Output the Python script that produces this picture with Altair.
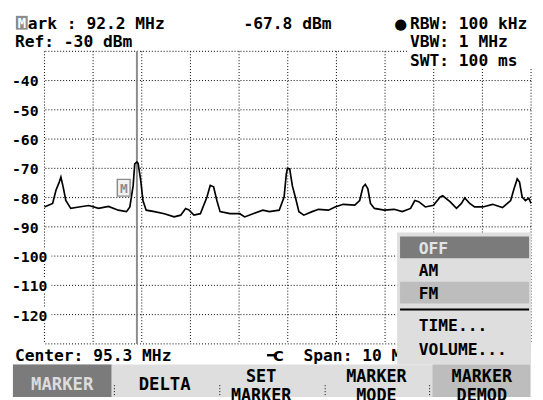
import altair as alt
import pandas as pd

# ---------------- data ----------------
center_mhz = 95.3
span_mhz = 10.0
ref_dbm = -30
db_per_div = 10
n_div = 10

trace_freq_mhz = [
    90.300, 90.468, 90.537, 90.604, 90.638, 90.685, 90.739, 90.840, 91.008, 91.211,
    91.413, 91.616, 91.818, 91.986, 92.055, 92.122, 92.156, 92.200, 92.225, 92.278,
    92.324, 92.391, 92.561, 92.764, 92.966, 93.100, 93.201, 93.270, 93.371, 93.504,
    93.640, 93.707, 93.776, 93.843, 93.909, 94.112, 94.314, 94.415, 94.585, 94.788,
    94.921, 95.124, 95.225, 95.270, 95.294, 95.340, 95.395, 95.462, 95.529, 95.630,
    95.800, 95.934, 96.136, 96.272, 96.440, 96.677, 96.778, 96.845, 96.893, 96.946,
    97.000, 97.081, 97.284, 97.486, 97.654, 97.824, 97.911, 97.992, 98.128, 98.296,
    98.432, 98.484, 98.634, 98.768, 98.869, 98.938, 99.039, 99.140, 99.308, 99.510,
    99.713, 99.881, 99.950, 100.016, 100.063, 100.117, 100.185, 100.253, 100.300,
]
trace_level_dbm = [
    -83.2, -82.0, -77.5, -74.7, -73.0, -76.4, -81.0, -83.7, -83.2, -82.7,
    -83.7, -83.0, -84.3, -84.8, -83.2, -76.0, -68.5, -67.8, -68.3, -74.0,
    -81.0, -84.3, -84.8, -85.5, -86.6, -86.0, -83.7, -84.2, -86.0, -85.5,
    -79.8, -75.8, -76.3, -81.0, -84.8, -85.5, -85.5, -86.6, -85.5, -84.3,
    -84.8, -84.3, -79.8, -72.0, -70.0, -70.2, -76.0, -80.2, -84.8, -86.0,
    -84.8, -84.0, -84.3, -83.2, -82.3, -82.6, -81.0, -76.4, -75.5, -77.0,
    -82.0, -83.7, -84.3, -84.0, -84.8, -83.7, -81.0, -81.4, -83.2, -82.6,
    -79.8, -79.4, -81.4, -83.7, -82.0, -80.1, -82.0, -83.2, -83.2, -82.3,
    -83.4, -81.0, -77.0, -73.6, -74.7, -79.8, -81.0, -80.2, -82.0,
]

y_tick_labels = [-40, -50, -60, -70, -80, -90, -100, -110, -120]

marker_freq_mhz = 92.2
marker_level_dbm = -67.8

header_mark = "ark : 92.2 MHz"
header_level = "-67.8 dBm"
header_rbw = "RBW: 100 kHz"
header_ref = "Ref: -30 dBm"
header_vbw = "VBW: 1 MHz"
header_swt = "SWT: 100 ms"
footer_center = "Center: 95.3 MHz"
footer_span = "Span: 10 M"

softkeys = [["MARKER"], ["DELTA"], ["SET", "MARKER"], ["MARKER", "MODE"], ["MARKER", "DEMOD"]]
menu_items = ["OFF", "AM", "FM", "TIME...", "VOLUME..."]

# ---------------- helpers ----------------
FONT = "DejaVu Sans Mono"
OX, OY = 45, 49          # screen position of plot origin
W, H = 494, 297
one = pd.DataFrame({"k": [0]})

f_lo = center_mhz - span_mhz / 2
f_hi = center_mhz + span_mhz / 2
d_hi = ref_dbm
d_lo = ref_dbm - n_div * db_per_div

xs = alt.Scale(domain=[f_lo, f_hi], nice=False, zero=False)
ys = alt.Scale(domain=[d_lo, d_hi], nice=False, zero=False)


def txt(s, sx, sy, size=16.5, color="black", align="left", baseline="alphabetic", lh=None, font=FONT):
    kw = dict(text=s, font=font, fontSize=size, fontWeight="bold", color=color,
              align=align, baseline=baseline)
    if lh:
        kw["lineHeight"] = lh
    return alt.Chart(one).mark_text(**kw).encode(
        x=alt.value(sx - OX), y=alt.value(sy - OY))


def box(x1, y1, x2, y2, fill, stroke=None, sw=1):
    kw = dict(color=fill)
    if stroke:
        kw.update(stroke=stroke, strokeWidth=sw)
    return alt.Chart(one).mark_rect(**kw).encode(
        x=alt.value(x1 - OX), x2=alt.value(x2 - OX),
        y=alt.value(y1 - OY), y2=alt.value(y2 - OY))


def hline(x1, x2, sy, color="black", sw=1, dash=None):
    kw = dict(color=color, strokeWidth=sw)
    if dash:
        kw["strokeDash"] = dash
    return alt.Chart(one).mark_rule(**kw).encode(
        x=alt.value(x1 - OX), x2=alt.value(x2 - OX), y=alt.value(sy - OY))


def vline(sx, y1, y2, color="black", sw=1, dash=None):
    kw = dict(color=color, strokeWidth=sw)
    if dash:
        kw["strokeDash"] = dash
    return alt.Chart(one).mark_rule(**kw).encode(
        x=alt.value(sx - OX), y=alt.value(y1 - OY), y2=alt.value(y2 - OY))


layers = []

# grid
gx = pd.DataFrame({"f": [f_lo + k * span_mhz / n_div for k in range(n_div + 1)]})
gy = pd.DataFrame({"d": [d_hi - k * db_per_div for k in range(n_div + 1)]})
layers.append(alt.Chart(gx).mark_rule(color="black", strokeWidth=1, strokeDash=[1, 2]).encode(
    x=alt.X("f:Q", scale=xs, axis=None)))
layers.append(alt.Chart(gy).mark_rule(color="black", strokeWidth=1, strokeDash=[1, 2]).encode(
    y=alt.Y("d:Q", scale=ys, axis=None)))

# white patch behind SWT text
layers.append(box(413, 38, 545, 67, "white"))

# y labels with white background
for v in y_tick_labels:
    sy = OY + (d_hi - v) / (d_hi - d_lo) * H
    right = 44 if len(str(v)) <= 3 else 52
    layers.append(box(11, sy - 7, right, sy + 7, "white"))
    layers.append(txt(str(v), 12, sy + 6, size=15))

# marker line
layers.append(alt.Chart(pd.DataFrame({"f": [marker_freq_mhz]})).mark_rule(
    color="#8c8c8c", strokeWidth=2).encode(x=alt.X("f:Q", scale=xs, axis=None)))

# trace
tr = pd.DataFrame({"f": trace_freq_mhz, "d": trace_level_dbm})
layers.append(alt.Chart(tr).mark_line(color="black", strokeWidth=1.7).encode(
    x=alt.X("f:Q", scale=xs, axis=None), y=alt.Y("d:Q", scale=ys, axis=None)))

# marker "M" box on trace
layers.append(box(119, 179, 132, 196, "#f2f2f2", stroke="#8c8c8c", sw=1.5))
layers.append(txt("M", 125.5, 193, size=13, color="#8c8c8c", align="center"))

# header
layers.append(box(16, 13, 28, 27, "#8c8c8c"))
layers.append(txt("M", 22, 25.5, size=14, color="white", align="center"))
layers.append(txt(header_mark, 28, 26))
layers.append(txt(header_level, 247, 26))
layers.append(txt("\u25cf", 400, 26, size=15, font="DejaVu Sans"))
layers.append(txt(header_rbw, 416, 26))
layers.append(txt(header_ref, 15, 45))
layers.append(txt(header_vbw, 416, 45))
layers.append(txt(header_swt, 416, 64))

# footer
layers.append(txt(footer_center, 15, 363))
layers.append(hline(271, 281, 357.5, sw=2.5))
layers.append(txt("C", 277, 363, size=15, font="DejaVu Sans"))
layers.append(txt(footer_span, 308, 363))

# menu
layers.append(box(403, 233, 539, 367, "#dedede"))
layers.append(box(406, 237, 537, 259, "#7b7b7b"))
layers.append(box(406, 283, 537, 305, "#bdbdbd"))
layers.append(hline(406, 537, 311, sw=2))
menu_y = [255, 277, 300, 333, 357]
for item, my in zip(menu_items, menu_y):
    layers.append(txt(item, 425, my, color="#e4e4e4" if item == "OFF" else "black"))

# softkey bar
layers.append(box(13, 367, 539, 400, "#dedede"))
layers.append(box(13, 367, 113, 400, "#7b7b7b"))
layers.append(box(439, 367, 538, 400, "#bdbdbd"))
for sx in [116, 223, 330, 436]:
    layers.append(vline(sx, 388, 400, dash=[1, 2]))
key_cx = [63, 167, 265, 382, 489]
for lab, cx in zip(softkeys, key_cx):
    col = "#dcdcdc" if lab == ["MARKER"] else "black"
    if len(lab) == 1:
        layers.append(txt(lab[0], cx, 393, size=17.5, color=col, align="center"))
    else:
        layers.append(txt(lab, cx, 385, size=17, color=col, align="center", lh=19))

chart = alt.layer(*layers).properties(
    width=W, height=H,
    padding={"left": 37, "top": 41, "right": 4, "bottom": 54},
    autosize=alt.AutoSizeParams(type="none"),
    background="white",
).configure_view(stroke=None)

chart.save("out.html", embed_options={"renderer": "svg", "actions": False})
